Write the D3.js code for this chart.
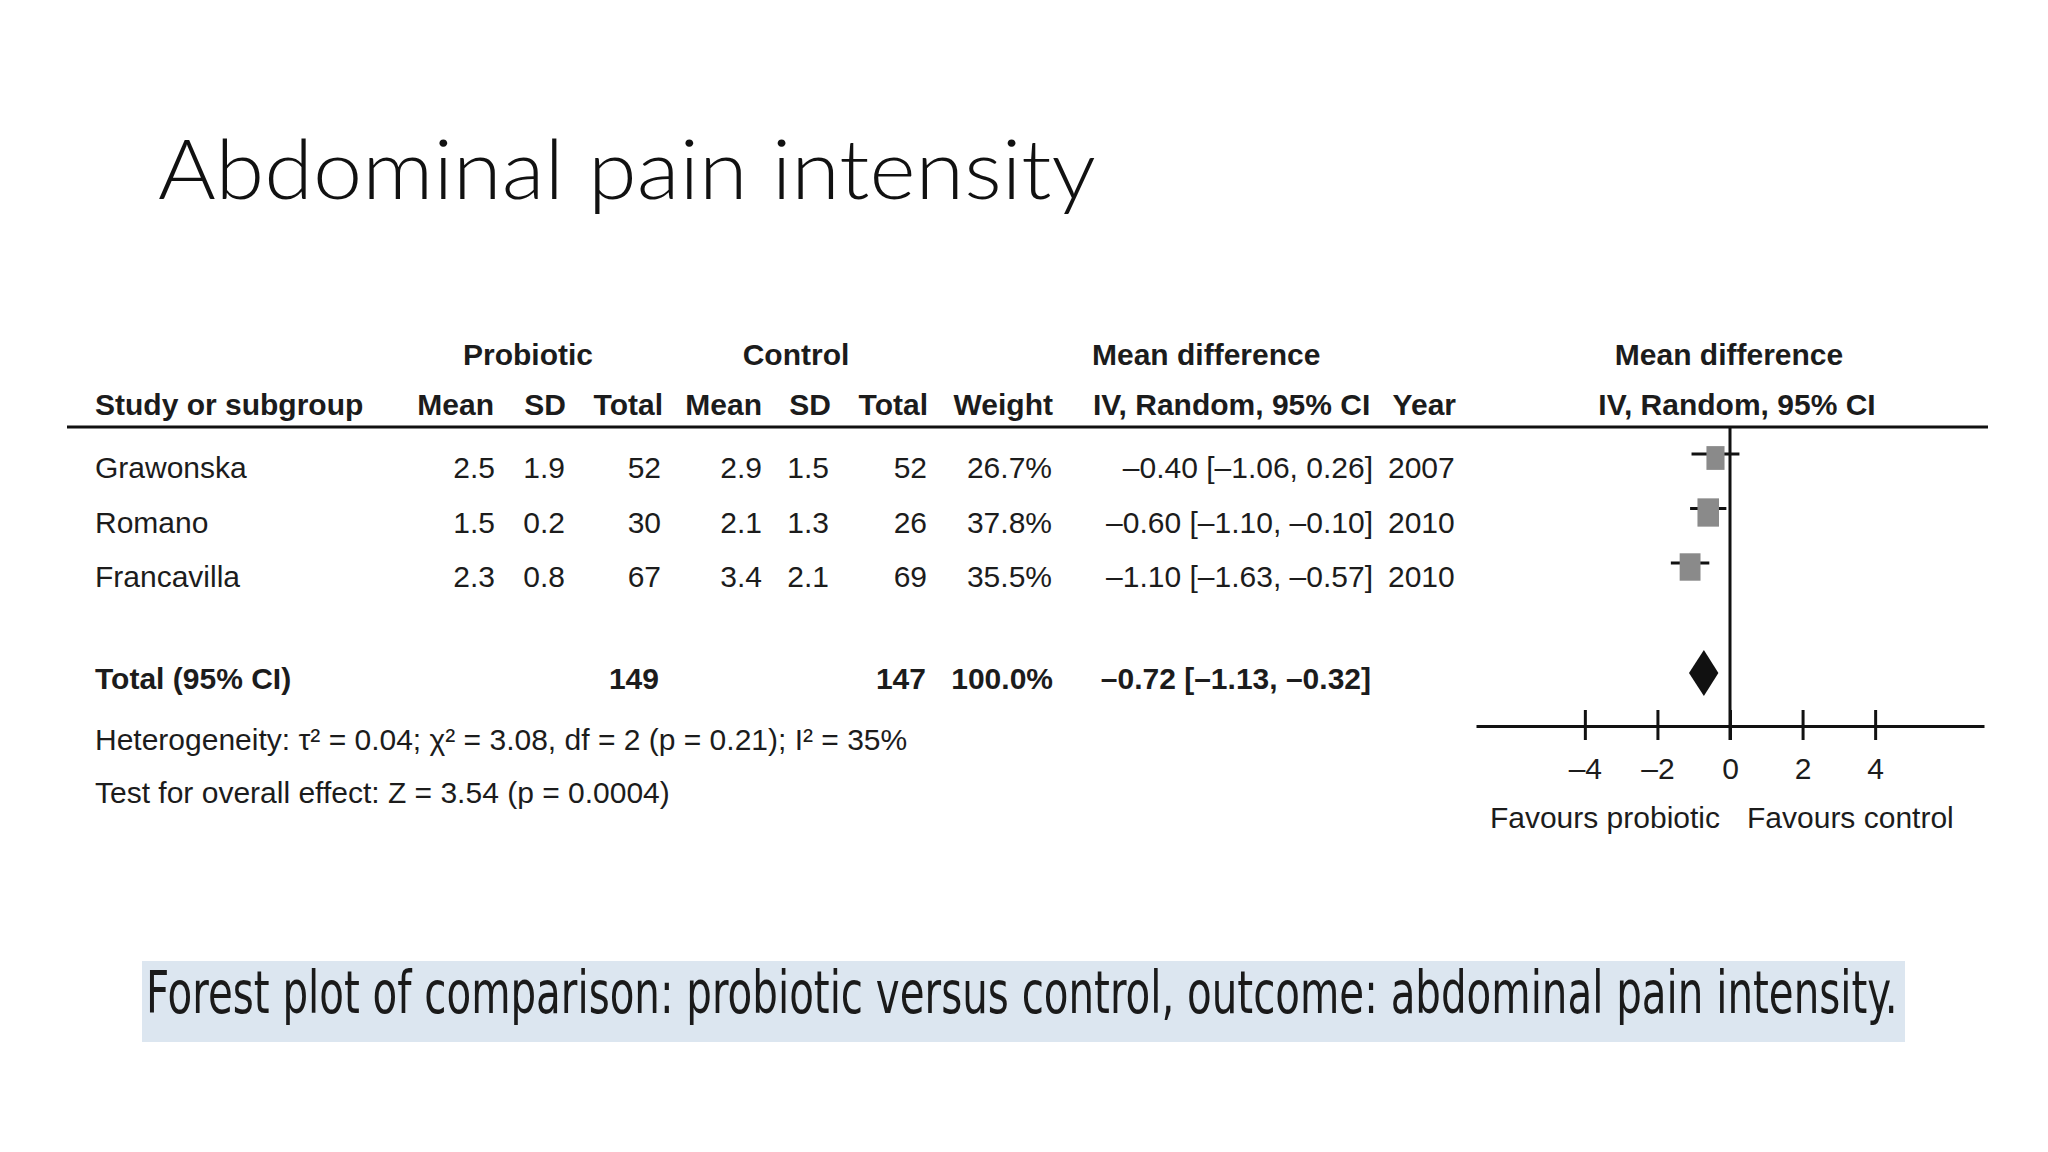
<!DOCTYPE html>
<html>
<head>
<meta charset="utf-8">
<script src="https://cdn.jsdelivr.net/npm/d3@7.9.0/dist/d3.min.js"></script>
<style>
  html, body { margin: 0; padding: 0; background: #fff; }
  svg { display: block; }
  .tbl { font-family: "Liberation Sans", Arial, sans-serif; font-size: 30px; fill: #1c1c1c; }
  .bold { font-weight: bold; }
</style>
</head>
<body>
<svg id="slide" width="2048" height="1152"></svg>
<script>
// ---- data ----
const studies = ['Grawonska', 'Romano', 'Francavilla'];
const probMean = [2.5, 1.5, 2.3];
const probSD = [1.9, 0.2, 0.8];
const probTotal = [52, 30, 67];
const ctrlMean = [2.9, 2.1, 3.4];
const ctrlSD = [1.5, 1.3, 2.1];
const ctrlTotal = [52, 26, 69];
const weights = [26.7, 37.8, 35.5];
const meanDiff = [-0.40, -0.60, -1.10];
const ciLow = [-1.06, -1.10, -1.63];
const ciHigh = [0.26, -0.10, -0.57];
const years = [2007, 2010, 2010];

const pooled = { probTotal: 149, ctrlTotal: 147, weight: 100.0, md: -0.72, lo: -1.13, hi: -0.32 };
const axisTicks = [-4, -2, 0, 2, 4];
const heterogeneity = 'Heterogeneity: τ² = 0.04; χ² = 3.08, df = 2 (p = 0.21); I² = 35%';
const overallTest = 'Test for overall effect: Z = 3.54 (p = 0.0004)';

const svg = d3.select('#slide');

// squeeze a text horizontally so it spans `width` px starting at its x
function fitWidth(sel, width) {
  const x0 = +sel.attr('x');
  const w = sel.node().getComputedTextLength();
  sel.attr('transform', `translate(${x0},0) scale(${width / w},1) translate(${-x0},0)`);
}

// title
const title = svg.append('text')
  .attr('x', 158).attr('y', 199)
  .style('font-family', 'Lato, "Open Sans", sans-serif')
  .style('font-weight', 300)
  .style('font-size', '82px')
  .style('fill', '#111')
  .text('Abdominal pain intensity');
fitWidth(title, 938);

// helpers
const dash = s => s.replace(/[-\u2212]/g, '–');
const f1 = d3.format('.1f');
const f2 = v => dash(d3.format('.2f')(v));
const ciText = (m, lo, hi) => `${f2(m)} [${f2(lo)}, ${f2(hi)}]`;

// row positions (baselines)
const rowY = d3.scaleLinear().domain([0, studies.length - 1]).range([478, 587]);
const totalY = 689;

const g = svg.append('g').attr('class', 'tbl');

// header line 1
const head1 = [
  { t: 'Probiotic', x: 528, a: 'middle' },
  { t: 'Control', x: 796, a: 'middle' },
  { t: 'Mean difference', x: 1092, a: 'start' },
  { t: 'Mean difference', x: 1729, a: 'middle' },
];
g.selectAll('.h1').data(head1).enter().append('text')
  .attr('class', 'bold').attr('x', d => d.x).attr('y', 365)
  .attr('text-anchor', d => d.a).text(d => d.t);

// header line 2
const head2 = [
  { t: 'Study or subgroup', x: 95, a: 'start' },
  { t: 'Mean', x: 494, a: 'end' },
  { t: 'SD', x: 566, a: 'end' },
  { t: 'Total', x: 663, a: 'end' },
  { t: 'Mean', x: 762, a: 'end' },
  { t: 'SD', x: 831, a: 'end' },
  { t: 'Total', x: 928, a: 'end' },
  { t: 'Weight', x: 1053, a: 'end' },
  { t: 'IV, Random, 95% CI', x: 1093, a: 'start' },
  { t: 'Year', x: 1456, a: 'end' },
  { t: 'IV, Random, 95% CI', x: 1737, a: 'middle' },
];
g.selectAll('.h2').data(head2).enter().append('text')
  .attr('class', 'bold').attr('x', d => d.x).attr('y', 415)
  .attr('text-anchor', d => d.a).text(d => d.t);

// rule under header
svg.append('line')
  .attr('x1', 67).attr('x2', 1988).attr('y1', 427).attr('y2', 427)
  .attr('stroke', '#111').attr('stroke-width', 3);

// study rows
const columns = [
  { vals: studies, fmt: d => d, x: 95, a: 'start' },
  { vals: probMean, fmt: f1, x: 495, a: 'end' },
  { vals: probSD, fmt: f1, x: 565, a: 'end' },
  { vals: probTotal, fmt: d => d, x: 661, a: 'end' },
  { vals: ctrlMean, fmt: f1, x: 762, a: 'end' },
  { vals: ctrlSD, fmt: f1, x: 829, a: 'end' },
  { vals: ctrlTotal, fmt: d => d, x: 927, a: 'end' },
  { vals: weights, fmt: d => f1(d) + '%', x: 1052, a: 'end' },
  { vals: meanDiff.map((m, i) => ciText(m, ciLow[i], ciHigh[i])), fmt: d => d, x: 1373, a: 'end' },
  { vals: years, fmt: d => d, x: 1388, a: 'start' },
];
columns.forEach(col => {
  g.append('g').selectAll('text').data(col.vals).enter().append('text')
    .attr('x', col.x).attr('y', (_d, i) => rowY(i))
    .attr('text-anchor', col.a).text(col.fmt);
});

// total row
const totalCells = [
  { t: 'Total (95% CI)', x: 95, a: 'start' },
  { t: pooled.probTotal, x: 659, a: 'end' },
  { t: pooled.ctrlTotal, x: 926, a: 'end' },
  { t: f1(pooled.weight) + '%', x: 1053, a: 'end' },
  { t: ciText(pooled.md, pooled.lo, pooled.hi), x: 1371, a: 'end' },
];
g.selectAll('.tot').data(totalCells).enter().append('text')
  .attr('class', 'bold').attr('x', d => d.x).attr('y', totalY)
  .attr('text-anchor', d => d.a).text(d => d.t);

g.append('text').attr('x', 95).attr('y', 750).text(heterogeneity);
g.append('text').attr('x', 95).attr('y', 803).text(overallTest);

// ---- forest plot ----
const x = d3.scaleLinear().domain([-7, 7]).range([1476, 1984]);
const axisY = 726;

const axis = d3.axisBottom(x)
  .tickValues(axisTicks)
  .tickSizeOuter(0)
  .tickFormat(d => d < 0 ? '–' + Math.abs(d) : d);

const ax = svg.append('g').attr('transform', `translate(0,${axisY})`).call(axis);
ax.select('.domain').attr('stroke', '#111').attr('stroke-width', 3);
ax.selectAll('.tick line').attr('stroke', '#111').attr('stroke-width', 3)
  .attr('y1', -16).attr('y2', 14);
ax.selectAll('.tick text')
  .attr('y', 53).attr('dy', 0)
  .style('font-family', '"Liberation Sans", Arial, sans-serif')
  .style('font-size', '30px').style('fill', '#1c1c1c');

// line of no effect
svg.append('line')
  .attr('x1', x(0)).attr('x2', x(0)).attr('y1', 427).attr('y2', axisY + 14)
  .attr('stroke', '#111').attr('stroke-width', 3);

// confidence intervals
svg.append('g').selectAll('line').data(meanDiff).enter().append('line')
  .attr('x1', (_d, i) => x(ciLow[i])).attr('x2', (_d, i) => x(ciHigh[i]))
  .attr('y1', (_d, i) => rowY(i) - 24).attr('y2', (_d, i) => rowY(i) - 24)
  .attr('stroke', '#111').attr('stroke-width', 3);

// weight squares
const sideW = d3.scaleSqrt().domain([0, 100]).range([0, 35]);
const sideH = d3.scaleSqrt().domain([0, 100]).range([0, 46]);
svg.append('g').selectAll('rect').data(meanDiff).enter().append('rect')
  .attr('x', (d, i) => x(d) - sideW(weights[i]) / 2)
  .attr('y', (_d, i) => rowY(i) - 20 - sideH(weights[i]) / 2)
  .attr('width', (_d, i) => sideW(weights[i]))
  .attr('height', (_d, i) => sideH(weights[i]))
  .attr('fill', '#8a8a8a');

// pooled diamond
const dy = totalY - 16;
svg.append('path')
  .attr('d', `M${x(pooled.lo)},${dy} L${x(pooled.md)},${dy - 23} L${x(pooled.hi)},${dy} L${x(pooled.md)},${dy + 23} Z`)
  .attr('fill', '#111');

// favours labels
g.append('text').attr('x', 1720).attr('y', 828).attr('text-anchor', 'end').text('Favours probiotic');
g.append('text').attr('x', 1747).attr('y', 828).attr('text-anchor', 'start').text('Favours control');

// ---- caption ----
svg.append('rect')
  .attr('x', 142).attr('y', 961).attr('width', 1763).attr('height', 81)
  .attr('fill', '#dce6f0');
const caption = svg.append('text')
  .attr('x', 146).attr('y', 1013)
  .style('font-family', '"Liberation Sans Narrow", "DejaVu Sans Condensed", sans-serif')
  .style('font-size', '58px')
  .style('fill', '#1a1a1a')
  .text('Forest plot of comparison: probiotic versus control, outcome: abdominal pain intensity.');
fitWidth(caption, 1752);
</script>
</body>
</html>
